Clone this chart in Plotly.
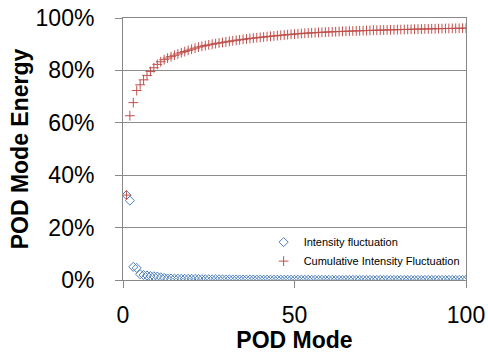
import plotly.graph_objects as go

modes = list(range(1, 101))

intensity = [
    32.4, 30.3, 5.0, 4.6, 2.2, 1.9, 1.7, 1.5, 1.4, 1.3,
    1.0, 0.8, 0.6, 0.55, 0.52, 0.50, 0.48, 0.45, 0.45, 0.43,
    0.41, 0.40, 0.30, 0.28, 0.26, 0.25, 0.24, 0.23, 0.22, 0.21,
    0.21, 0.20, 0.19, 0.18, 0.17, 0.17, 0.16, 0.16, 0.15, 0.14,
    0.14, 0.14, 0.13, 0.13, 0.13, 0.12, 0.12, 0.12, 0.12, 0.11,
    0.11, 0.11, 0.09, 0.08, 0.08, 0.07, 0.07, 0.07, 0.06, 0.06,
    0.06, 0.06, 0.05, 0.05, 0.05, 0.05, 0.05, 0.05, 0.04, 0.04,
    0.04, 0.04, 0.04, 0.04, 0.04, 0.04, 0.035, 0.035, 0.035, 0.035,
    0.035, 0.035, 0.035, 0.035, 0.035, 0.035, 0.035, 0.035, 0.025, 0.025,
    0.025, 0.025, 0.025, 0.025, 0.025, 0.025, 0.025, 0.025, 0.025, 0.025,
]

cumulative = [
    32.40, 62.70, 67.70, 72.30, 74.50, 76.40, 78.10, 79.60, 81.00, 82.30,
    83.30, 84.10, 84.70, 85.25, 85.77, 86.27, 86.75, 87.20, 87.65, 88.08,
    88.49, 88.89, 89.19, 89.47, 89.73, 89.98, 90.22, 90.45, 90.67, 90.88,
    91.09, 91.29, 91.48, 91.66, 91.83, 92.00, 92.16, 92.32, 92.47, 92.61,
    92.75, 92.89, 93.02, 93.15, 93.28, 93.40, 93.52, 93.64, 93.76, 93.87,
    93.98, 94.09, 94.18, 94.26, 94.34, 94.41, 94.48, 94.55, 94.61, 94.67,
    94.73, 94.79, 94.84, 94.89, 94.94, 94.99, 95.04, 95.09, 95.13, 95.17,
    95.21, 95.25, 95.29, 95.33, 95.37, 95.41, 95.445, 95.48, 95.515, 95.55,
    95.585, 95.62, 95.655, 95.69, 95.725, 95.76, 95.795, 95.83, 95.855, 95.88,
    95.905, 95.93, 95.955, 95.98, 96.005, 96.03, 96.055, 96.08, 96.105, 96.13,
]

x_ticks = [0, 50, 100]
y_ticks = [0, 20, 40, 60, 80, 100]

fig = go.Figure()
fig.add_trace(go.Scatter(
    x=modes, y=intensity, mode="markers", name="Intensity fluctuation",
    marker=dict(symbol="diamond-open", size=7, color="#4f81bd",
                line=dict(width=1, color="#4f81bd")),
))
fig.add_trace(go.Scatter(
    x=modes, y=cumulative, mode="markers", name="Cumulative Intensity Fluctuation",
    marker=dict(symbol="cross-thin", size=7, color="#c0504d",
                line=dict(width=1, color="#c0504d")),
))

font_family = "Liberation Sans, Arial, sans-serif"

fig.update_layout(
    width=488, height=353,
    margin=dict(l=123, r=22, t=18, b=73),
    paper_bgcolor="white", plot_bgcolor="white",
    font=dict(family=font_family, color="#000000"),
    showlegend=True,
    legend=dict(x=0.41, y=0.2, xanchor="left", yanchor="top",
                bgcolor="rgba(255,255,255,0)", font=dict(size=11, color="#000000"),
                tracegroupgap=0),
)
fig.update_xaxes(
    range=[0, 100], tickvals=x_ticks, ticktext=[str(v) for v in x_ticks],
    showgrid=False, zeroline=False, automargin=False, ticklabeloverflow="allow",
    showline=True, linecolor="#888888", linewidth=1, mirror=True,
    ticks="outside", ticklen=7, tickcolor="#888888",
    tickfont=dict(size=23, color="#000000"), ticklabelstandoff=7,
    title=dict(text="<b>POD Mode</b>", font=dict(size=23, color="#000000"), standoff=2),
)
fig.update_yaxes(
    range=[0, 100], tickvals=y_ticks, ticktext=[f"{v}%" for v in y_ticks],
    showgrid=True, gridcolor="#8c8c8c", gridwidth=1, zeroline=False, automargin=False,
    ticklabeloverflow="allow",
    showline=True, linecolor="#888888", linewidth=1, mirror=True,
    ticks="outside", ticklen=7, tickcolor="#888888",
    tickfont=dict(size=23, color="#000000"), ticklabelstandoff=16,
    title=dict(text="<b>POD Mode Energy</b>", font=dict(size=23, color="#000000"), standoff=0),
)

# Remove the default page margin so the figure fills the 488x353 window exactly.
fig.write_html("out.html", config={"displayModeBar": False},
               post_script="document.body.style.margin='0px';")
